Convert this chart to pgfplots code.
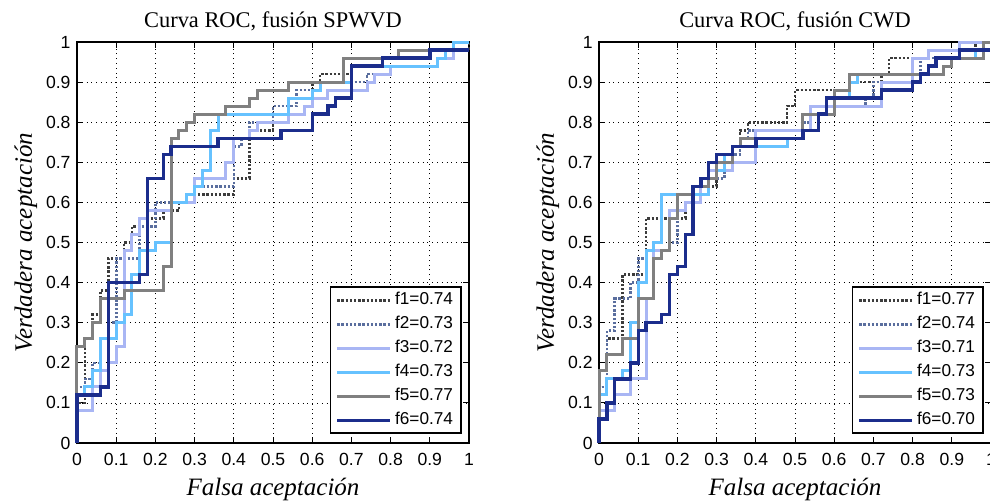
\documentclass[border=0pt]{standalone}
\usepackage{pgfplots}
\pgfplotsset{compat=1.18}
\usepackage{fontspec}
\setmainfont{Liberation Serif}
\setsansfont{Liberation Sans}
\definecolor{cF1}{HTML}{3C3C3C}
\definecolor{cF2}{HTML}{5A6E9E}
\definecolor{cF3}{HTML}{A9B6F4}
\definecolor{cF4}{HTML}{66C2FF}
\definecolor{cF5}{HTML}{808080}
\definecolor{cF6}{HTML}{1B2D8C}
\pgfplotsset{
  sF1/.style={cF1, line width=1.3pt, dash pattern=on 1.2pt off 0.9pt, const plot mark left},
  sF2/.style={cF2, line width=1.3pt, dash pattern=on 1.2pt off 0.9pt, const plot mark left},
  sF3/.style={cF3, line width=1.5pt, const plot mark left},
  sF4/.style={cF4, line width=1.5pt, const plot mark left},
  sF5/.style={cF5, line width=1.5pt, const plot mark left},
  sF6/.style={cF6, line width=1.7pt, const plot mark left},
  rocaxis/.style={
    scale only axis, width=196pt, height=200.5pt,
    xmin=0, xmax=1, ymin=0, ymax=1, clip=false,
    xtick={0,0.1,0.2,0.3,0.4,0.5,0.6,0.7,0.8,0.9,1},
    ytick={0,0.1,0.2,0.3,0.4,0.5,0.6,0.7,0.8,0.9,1},
    grid=major, major grid style={black, dotted, line width=0.4pt},
    tick align=inside, major tick length=3pt,
    tick style={black, line width=0.5pt},
    axis line style={black, line width=0.7pt},
    ticklabel style={font=\sffamily\fontsize{8.8}{10}\selectfont},
    /pgf/number format/assume math mode=true,
    xticklabel style={yshift=-1.5pt},
    yticklabel style={xshift=0.3pt},
    title style={at={(axis description cs:0.5,1.0374)}, anchor=base, yshift=-6pt, font=\fontsize{11.2}{13}\selectfont},
    every axis x label/.style={at={(axis description cs:0.5,-0.1297)}, anchor=base, font=\itshape\fontsize{12.5}{14}\selectfont},
    every axis y label/.style={at={(axis description cs:-0.115,0.5)}, rotate=90, anchor=base, font=\itshape\fontsize{12.5}{14}\selectfont},
    xlabel={Falsa aceptación}, ylabel={Verdadera aceptación},
    legend cell align=left,
    legend image code/.code={\draw[#1] (0pt,0pt) -- (26.5pt,0pt);},
    legend style={at={(axis description cs:1,0)}, anchor=south east, xshift=-3.5pt, yshift=4.5pt,
      draw=black, line width=0.8pt, fill=white,
      font=\sffamily\fontsize{8.6}{10}\selectfont,
      inner xsep=2.5pt, inner ysep=0.5pt, row sep=0pt,
      nodes={inner xsep=1.6pt, inner ysep=0pt, minimum height=12pt}},
  }
}
\begin{document}
\begin{tikzpicture}
\begin{axis}[rocaxis, at={(38.5pt,28.5pt)}, anchor=south west, title={Curva ROC, fusión SPWVD}]
\addplot[sF1] coordinates {(0,0)(0,0.10)(0.02,0.26)(0.04,0.32)(0.06,0.38)(0.08,0.46)(0.12,0.50)(0.14,0.54)(0.16,0.56)(0.22,0.58)(0.26,0.60)(0.30,0.62)(0.40,0.66)(0.44,0.78)(0.50,0.84)(0.56,0.86)(0.60,0.90)(0.62,0.92)(0.70,0.94)(0.92,0.96)(0.94,0.98)(1,1)};
\addplot[sF2] coordinates {(0,0)(0,0.14)(0.02,0.16)(0.04,0.20)(0.06,0.26)(0.08,0.30)(0.10,0.46)(0.16,0.54)(0.20,0.60)(0.30,0.64)(0.40,0.74)(0.42,0.76)(0.44,0.80)(0.50,0.84)(0.56,0.88)(0.62,0.90)(0.74,0.92)(0.80,0.94)(0.92,0.96)(0.96,1.0)(1,1)};
\addplot[sF3] coordinates {(0,0)(0,0.08)(0.04,0.14)(0.06,0.18)(0.08,0.20)(0.10,0.24)(0.12,0.48)(0.14,0.52)(0.16,0.56)(0.18,0.58)(0.24,0.60)(0.30,0.66)(0.38,0.70)(0.40,0.76)(0.44,0.78)(0.46,0.80)(0.54,0.82)(0.58,0.84)(0.60,0.86)(0.64,0.88)(0.74,0.90)(0.76,0.92)(0.80,0.94)(0.92,0.96)(0.96,1.0)(1,1)};
\addplot[sF4] coordinates {(0,0)(0,0.12)(0.02,0.14)(0.04,0.18)(0.06,0.26)(0.10,0.30)(0.12,0.32)(0.14,0.42)(0.16,0.48)(0.20,0.50)(0.24,0.60)(0.28,0.62)(0.30,0.64)(0.32,0.68)(0.34,0.78)(0.36,0.82)(0.54,0.86)(0.60,0.88)(0.62,0.90)(0.70,0.94)(0.92,0.96)(0.94,0.98)(0.96,1.0)(1,1)};
\addplot[sF5] coordinates {(0,0)(0,0.24)(0.02,0.26)(0.04,0.30)(0.06,0.36)(0.12,0.38)(0.22,0.44)(0.24,0.76)(0.26,0.78)(0.28,0.80)(0.30,0.82)(0.38,0.84)(0.44,0.86)(0.46,0.88)(0.54,0.90)(0.68,0.96)(0.82,0.98)(1,0.98)};
\addplot[sF6] coordinates {(0,0)(0,0.12)(0.06,0.14)(0.08,0.40)(0.16,0.42)(0.18,0.66)(0.22,0.72)(0.24,0.74)(0.36,0.76)(0.52,0.78)(0.60,0.82)(0.64,0.84)(0.66,0.86)(0.70,0.94)(0.78,0.96)(0.90,0.98)(1,0.98)};
\legend{f1=0.74,f2=0.73,f3=0.72,f4=0.73,f5=0.77,f6=0.74}
\end{axis}
\begin{axis}[rocaxis, at={(299.5pt,28.5pt)}, anchor=south west, title={Curva ROC, fusión CWD}]
\addplot[sF1] coordinates {(0,0)(0,0.14)(0.02,0.26)(0.06,0.42)(0.12,0.56)(0.22,0.60)(0.24,0.62)(0.28,0.64)(0.30,0.68)(0.34,0.72)(0.36,0.78)(0.38,0.80)(0.48,0.84)(0.50,0.88)(0.64,0.90)(0.72,0.92)(0.74,0.96)(0.92,0.98)(0.96,1.0)(1,1)};
\addplot[sF2] coordinates {(0,0)(0,0.14)(0.02,0.28)(0.04,0.36)(0.08,0.40)(0.10,0.46)(0.12,0.48)(0.18,0.50)(0.20,0.58)(0.22,0.60)(0.26,0.62)(0.28,0.66)(0.32,0.70)(0.34,0.72)(0.36,0.76)(0.38,0.78)(0.52,0.80)(0.54,0.84)(0.68,0.86)(0.70,0.90)(0.80,0.92)(0.82,0.96)(0.92,1.0)(1,1)};
\addplot[sF3] coordinates {(0,0)(0,0.08)(0.04,0.12)(0.08,0.16)(0.12,0.36)(0.14,0.48)(0.18,0.58)(0.22,0.60)(0.26,0.66)(0.28,0.68)(0.34,0.70)(0.40,0.78)(0.54,0.84)(0.72,0.90)(0.80,0.96)(0.84,0.98)(0.92,1.0)(1,1)};
\addplot[sF4] coordinates {(0,0)(0,0.12)(0.02,0.16)(0.06,0.18)(0.08,0.30)(0.10,0.40)(0.12,0.48)(0.14,0.50)(0.16,0.62)(0.26,0.62)(0.28,0.66)(0.30,0.68)(0.32,0.72)(0.34,0.74)(0.48,0.76)(0.52,0.78)(0.56,0.82)(0.60,0.86)(0.64,0.90)(0.66,0.92)(0.84,0.94)(0.86,0.96)(0.96,0.98)(1,1)};
\addplot[sF5] coordinates {(0,0)(0,0.18)(0.02,0.22)(0.06,0.26)(0.10,0.36)(0.14,0.46)(0.16,0.48)(0.18,0.56)(0.20,0.62)(0.24,0.64)(0.28,0.66)(0.30,0.70)(0.34,0.74)(0.36,0.76)(0.52,0.82)(0.60,0.88)(0.64,0.92)(0.88,0.94)(0.90,0.96)(0.98,1.0)(1,1)};
\addplot[sF6] coordinates {(0,0)(0,0.06)(0.02,0.10)(0.04,0.16)(0.08,0.20)(0.10,0.28)(0.12,0.30)(0.16,0.32)(0.18,0.42)(0.20,0.44)(0.22,0.52)(0.24,0.64)(0.26,0.66)(0.28,0.70)(0.30,0.72)(0.34,0.74)(0.40,0.76)(0.52,0.78)(0.56,0.82)(0.58,0.86)(0.72,0.88)(0.80,0.90)(0.82,0.92)(0.84,0.94)(0.86,0.96)(0.92,0.98)(1,0.98)};
\legend{f1=0.77,f2=0.74,f3=0.71,f4=0.73,f5=0.73,f6=0.70}
\end{axis}
\pgfresetboundingbox
\useasboundingbox (0,0) rectangle (495pt,250pt);
\end{tikzpicture}
\end{document}
